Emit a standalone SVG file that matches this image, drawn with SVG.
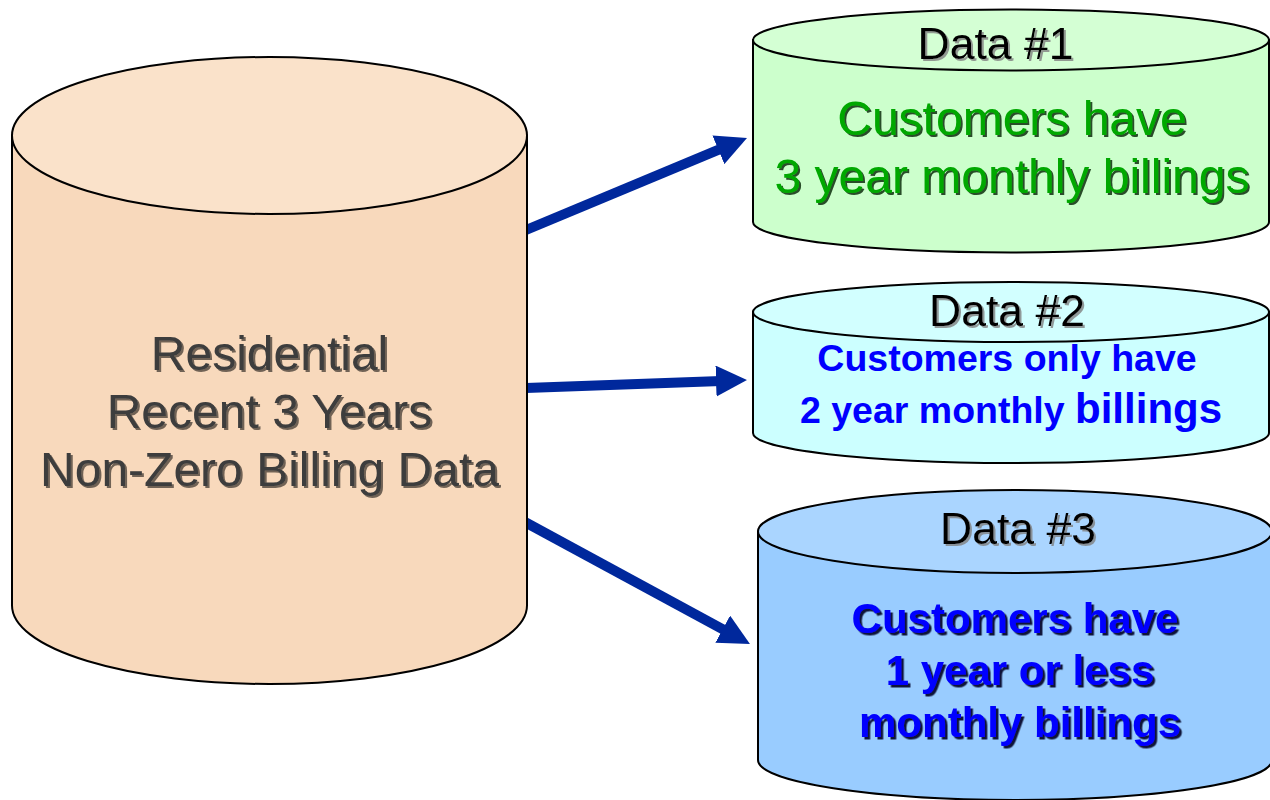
<svg xmlns="http://www.w3.org/2000/svg" width="1270" height="800" viewBox="0 0 1270 800">
<style>
.cyl{stroke:#000;stroke-width:2}
.t{font-family:"Liberation Sans",Arial,sans-serif;text-anchor:middle}
.lbl{font-size:44.5px;fill:#000;filter:url(#shGray)}
.main{font-size:48px;fill:#3C3C3C;filter:url(#shMain)}
.green{font-size:48px;fill:#00A800;filter:url(#shGreen)}
.blue2{font-size:37.5px;font-weight:bold;fill:#0000FF}
.blue3{font-size:42px;font-weight:bold;fill:#0000FF;filter:url(#shBlue)}
.arrow{stroke:#00289C;stroke-width:10;fill:none;marker-end:url(#ah)}
</style>
<defs>
<filter id="shGray" x="-10%" y="-20%" width="120%" height="140%"><feDropShadow dx="2" dy="2" stdDeviation="0.4" flood-color="#808080" flood-opacity="0.8"/></filter>
<filter id="shMain" x="-10%" y="-20%" width="120%" height="140%"><feDropShadow dx="2" dy="2" stdDeviation="0.4" flood-color="#000" flood-opacity="0.55"/></filter>
<filter id="shGreen" x="-10%" y="-20%" width="120%" height="140%"><feDropShadow dx="2" dy="2" stdDeviation="0.4" flood-color="#002200" flood-opacity="0.8"/></filter>
<filter id="shBlue" x="-10%" y="-20%" width="120%" height="140%"><feDropShadow dx="2.5" dy="2.5" stdDeviation="0.4" flood-color="#000022" flood-opacity="0.9"/></filter>
<marker id="ah" markerUnits="userSpaceOnUse" viewBox="0 0 31 31" markerWidth="31" markerHeight="31" refX="5" refY="15.5" orient="auto">
<path d="M0,0 L31,15.5 L0,31 Z" fill="#00289C"/>
</marker>
</defs>

<g id="connectors">
<line class="arrow" x1="526" y1="230" x2="723" y2="147.9"/>
<line class="arrow" x1="526" y1="388" x2="721" y2="380.9"/>
<line class="arrow" x1="523" y1="521" x2="727.1" y2="631.6"/>
</g>

<g id="source">
<path class="cyl" fill="#F8D9BC" d="M12,135.5 V605.5 A257.5,78.5 0 0 0 527,605.5 V135.5 Z"/>
<ellipse class="cyl" fill="#FAE2CA" cx="269.5" cy="135.5" rx="257.5" ry="78.5"/>
<text class="t main" x="269.5" y="370">Residential</text>
<text class="t main" x="269.5" y="428">Recent 3 Years</text>
<text class="t main" x="269.5" y="486">Non-Zero Billing Data</text>
</g>

<g id="data1">
<path class="cyl" fill="#CCFFCC" d="M753,40 V222 A258,30.5 0 0 0 1269,222 V40 Z"/>
<ellipse class="cyl" fill="#D4FFD4" cx="1011" cy="40" rx="258" ry="30.5"/>
<text class="t lbl" x="995.5" y="59">Data #1</text>
<text class="t green" x="1012" y="135">Customers have</text>
<text class="t green" x="1012" y="193">3 year monthly billings</text>
</g>

<g id="data2">
<path class="cyl" fill="#CCFFFF" d="M753,312 V433 A258,30 0 0 0 1269,433 V312 Z"/>
<ellipse class="cyl" fill="#D2FFFF" cx="1011" cy="312" rx="258" ry="30"/>
<text class="t lbl" x="1007" y="326">Data #2</text>
<text class="t blue2" x="1007" y="371">Customers only have</text>
<text class="t blue2" x="1011" y="423">2 year monthly <tspan font-size="42">billings</tspan></text>
</g>

<g id="data3">
<path class="cyl" fill="#99CCFF" d="M758,531.5 V760 A257,40 0 0 0 1272,760 V531.5 Z"/>
<ellipse class="cyl" fill="#AAD5FF" cx="1015" cy="531.5" rx="257" ry="41.5"/>
<text class="t lbl" x="1018" y="544">Data #3</text>
<text class="t blue3" x="1015" y="633">Customers have</text>
<text class="t blue3" x="1020" y="685">1 year or less</text>
<text class="t blue3" x="1020" y="737">monthly billings</text>
</g>
</svg>
